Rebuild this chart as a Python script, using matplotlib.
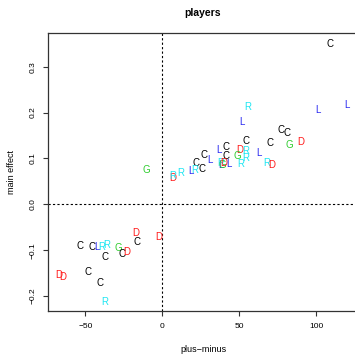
import matplotlib
matplotlib.use("Agg")
import matplotlib.pyplot as plt

plt.rcParams['font.family'] = ['Liberation Sans', 'DejaVu Sans']

letters = ["C", "R", "L", "L", "L", "C", "C", "D", "G", "C",
           "C", "D", "R", "G", "R", "L", "R", "R", "D", "C",
           "C", "L", "L", "R", "G", "D", "L", "C", "L", "C",
           "C", "L", "R", "R", "D", "R", "G",
           "D", "C", "D", "C", "C", "L", "R", "R", "G", "C",
           "D", "C", "D", "D", "C", "C", "R"]
plus_minus = [109.0, 55.3, 101.4, 120.3, 52.0, 77.0, 81.3, 90.2, 82.4, 70.0,
              54.2, 50.5, 54.1, 48.8, 54.1, 63.1, 51.2, 68.1, 71.1, 41.4,
              41.4, 36.7, 37.8, 38.2, 39.1, 40.2, 43.0, 27.1, 30.8, 21.9,
              26.1, 18.9, 20.9, 11.8, 6.5, 6.8, -10.1,
              -17.1, -16.3, -2.1, -53.5, -45.4, -42.5, -39.4, -36.2, -28.3, -26.2,
              -23.1, -37.3, -67.0, -64.6, -48.3, -40.5, -37.3]
main_effect = [0.350, 0.212, 0.206, 0.217, 0.180, 0.162, 0.155, 0.135, 0.129, 0.134,
               0.137, 0.118, 0.116, 0.106, 0.100, 0.111, 0.088, 0.091, 0.085, 0.125,
               0.105, 0.118, 0.085, 0.090, 0.086, 0.091, 0.088, 0.107, 0.096, 0.091,
               0.076, 0.072, 0.075, 0.069, 0.057, 0.061, 0.075,
               -0.063, -0.082, -0.071, -0.092, -0.094, -0.093, -0.094, -0.088, -0.096, -0.108,
               -0.103, -0.116, -0.155, -0.159, -0.148, -0.171, -0.212]
letter_colors = {"C": "#000000", "D": "#ff1a1a", "G": "#2ecc2e",
                 "L": "#2a2af0", "R": "#1ee6f2"}

xticks = [-50, 0, 50, 100]
yticks = [-0.2, -0.1, 0.0, 0.1, 0.2, 0.3]

W, H = 355, 354
fig = plt.figure(figsize=(W / 100, H / 100), dpi=100)
ax = fig.add_axes([48.3 / W, 1 - 311 / H, (358 - 48.3) / W, (311 - 33) / H])

ax.set_xlim(-74.1, 127.2)
ax.set_ylim(-0.2327, 0.3735)

ax.axvline(0, color="black", lw=0.8, linestyle=(0, (2, 2)))
ax.axhline(0, color="black", lw=0.8, linestyle=(0, (2, 2)))

for s, x, y in zip(letters, plus_minus, main_effect):
    ax.text(x, y, s, color=letter_colors[s], fontsize=7, ha="center", va="center")

ax.set_xticks(xticks)
ax.set_xticklabels([str(t).replace("-", "\u2212") for t in xticks])
ax.set_yticks(yticks)
ax.set_yticklabels([f"{t:.1f}".replace("-", "\u2212") for t in yticks],
                   rotation=90, va="center")
ax.tick_params(axis="both", labelsize=6, length=3.6, width=0.8,
               direction="out", color="#333333")
ax.tick_params(axis="x", pad=5)
ax.tick_params(axis="y", pad=5)
for sp in ax.spines.values():
    sp.set_linewidth(0.9)
    sp.set_color("#333333")

fig.text(203 / W, 1 - 13 / H, "players", fontsize=7.5, fontweight="bold",
         ha="center", va="center")
fig.text(203 / W, 1 - 350 / H, "plus\u2212minus", fontsize=6.5,
         ha="center", va="center")
fig.text(11.7 / W, 1 - 172 / H, "main effect", fontsize=6.5, rotation=90,
         ha="center", va="center")

fig.savefig("out.png", dpi=100)
